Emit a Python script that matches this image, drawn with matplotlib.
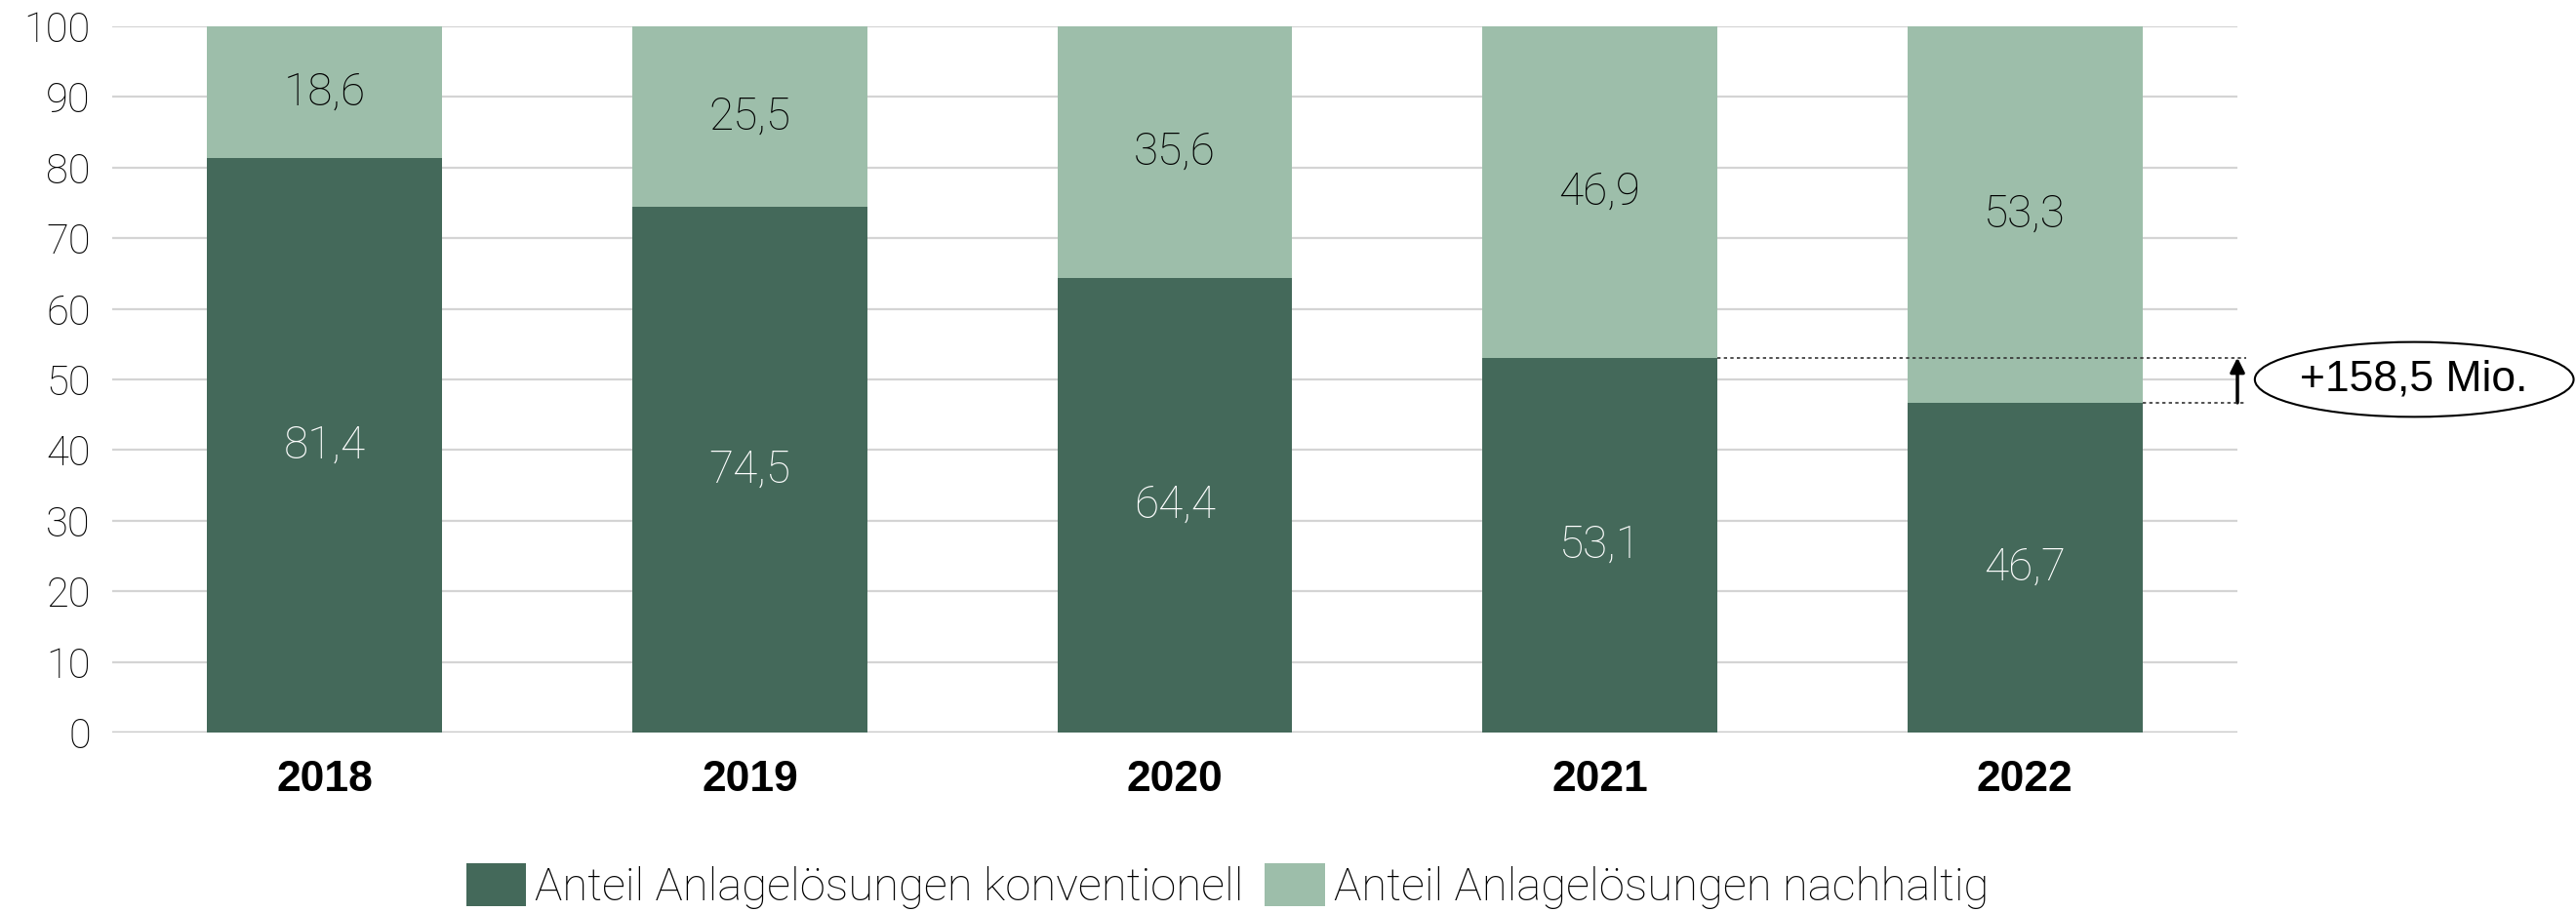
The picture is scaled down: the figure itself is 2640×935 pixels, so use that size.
import matplotlib
matplotlib.use("Agg")
import matplotlib.pyplot as plt
from matplotlib.patches import Ellipse, Patch
from matplotlib import font_manager as fm

years = ["2018", "2019", "2020", "2021", "2022"]
konventionell = [81.4, 74.5, 64.4, 53.1, 46.7]
nachhaltig = [18.6, 25.5, 35.6, 46.9, 53.3]
labels_conv = ["81,4", "74,5", "64,4", "53,1", "46,7"]
labels_nach = ["18,6", "25,5", "35,6", "46,9", "53,3"]
yticks = [0, 10, 20, 30, 40, 50, 60, 70, 80, 90, 100]
legend_labels = ["Anteil Anlagelösungen konventionell", "Anteil Anlagelösungen nachhaltig"]
annotation_text = "+158,5 Mio."

dark = "#44695A"
light = "#9DBEAA"

names = {f.name for f in fm.fontManager.ttflist}
narrow = "Liberation Sans Narrow" if "Liberation Sans Narrow" in names else "Liberation Sans"

plt.rcParams["font.family"] = ["Roboto", "DejaVu Sans"]

fig = plt.figure(figsize=(26.4, 9.35), dpi=100)
ax = fig.add_axes([115/2640, 184/935, (2293-115)/2640, (751-27)/935])

x = list(range(len(years)))
w = 0.553
ax.bar(x, konventionell, width=w, color=dark, zorder=2)
ax.bar(x, nachhaltig, width=w, bottom=konventionell, color=light, zorder=2)

for i in x:
    ax.text(i, konventionell[i] / 2, labels_conv[i], ha="center", va="center",
            color="white", fontsize=33, fontweight="light", zorder=3)
    ax.text(i, konventionell[i] + nachhaltig[i] / 2, labels_nach[i], ha="center", va="center",
            color="black", fontsize=33, fontweight="light", zorder=3)

ax.set_xlim(-0.5, 4.5)
ax.set_ylim(0, 100)
ax.set_yticks(yticks)
ax.set_yticklabels([str(t) for t in yticks], fontsize=30, fontweight="light")
ax.set_xticks(x)
ax.set_xticklabels(years, fontsize=32, fontweight="bold", family=["Liberation Sans", "DejaVu Sans"])
ax.tick_params(axis="both", length=0)
ax.tick_params(axis="y", pad=16)
ax.tick_params(axis="x", pad=20)
ax.grid(axis="y", color="#D4D4D4", linewidth=1.6, zorder=0)
ax.set_axisbelow(True)
for s in ax.spines.values():
    s.set_visible(False)
ax.axhline(0, color="#C8C8C8", linewidth=2.5, zorder=1)

# annotation
y_hi = konventionell[3]
y_lo = konventionell[4]
ax.plot([3 + w/2, 4.52], [y_hi, y_hi], linestyle=(0, (2, 2)), color="#333333",
        linewidth=1.2, clip_on=False, zorder=4)
ax.plot([4 + w/2, 4.52], [y_lo, y_lo], linestyle=(0, (2, 2)), color="#333333",
        linewidth=1.2, clip_on=False, zorder=4)
ax.annotate("", xy=(4.5, y_hi), xytext=(4.5, y_lo),
            arrowprops=dict(arrowstyle="-|>", color="black", lw=2.5, mutation_scale=22,
                            shrinkA=0, shrinkB=0), annotation_clip=False)
ell = Ellipse((4.916, 50.0), width=0.75, height=10.6, facecolor="white", edgecolor="black",
              linewidth=1.5, clip_on=False, zorder=5)
ax.add_patch(ell)
ax.text(4.916, 50.0, annotation_text, ha="center", va="center", fontsize=32,
        family=[narrow, "DejaVu Sans"], zorder=6, clip_on=False)

handles = [Patch(facecolor=dark, edgecolor="none"), Patch(facecolor=light, edgecolor="none")]
fig.legend(handles, legend_labels, loc="center", bbox_to_anchor=(0.4765, 0.028), ncol=2,
           frameon=False, handlelength=1.3, handleheight=1.05,
           handletextpad=0.2, columnspacing=0.45, prop={"size": 34, "weight": "light"})

fig.savefig("out.png", dpi=100)
